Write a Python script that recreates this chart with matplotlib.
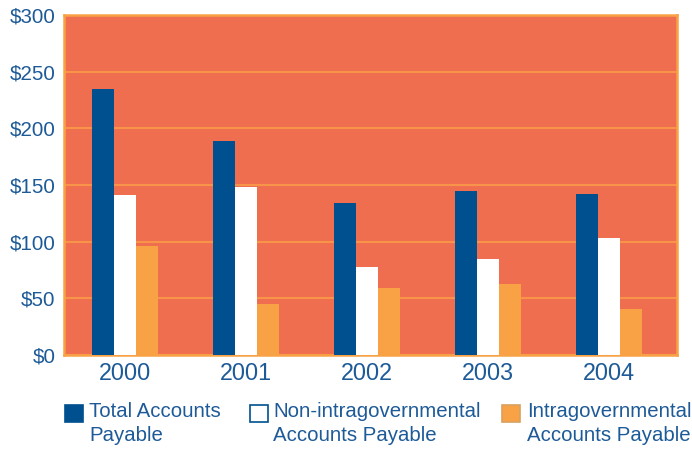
import matplotlib
matplotlib.use("Agg")
import matplotlib.pyplot as plt
from matplotlib.patches import Rectangle
import numpy as np

years = ["2000", "2001", "2002", "2003", "2004"]
total_payable = [235, 189, 134, 145, 142]
non_intragov_payable = [141, 148, 78, 85, 103]
intragov_payable = [96, 45, 59, 63, 41]
y_ticks = [0, 50, 100, 150, 200, 250, 300]
y_tick_labels = ["$0", "$50", "$100", "$150", "$200", "$250", "$300"]
legend_labels = ["Total Accounts\nPayable",
                 "Non-intragovernmental\nAccounts Payable",
                 "Intragovernmental\nAccounts Payable"]

BG = "#F06E50"
BLUE = "#00508F"
WHITE = "#FFFFFF"
ORANGE = "#F9A245"
GRID = "#F8944A"
TEXT = "#1D5A98"

plt.rcParams["font.family"] = ["Liberation Sans", "DejaVu Sans"]

fig = plt.figure(figsize=(6.92, 4.49), dpi=100)
ax = fig.add_axes([64 / 692, 94 / 449, 613 / 692, 340 / 449])
ax.set_facecolor(BG)

x = np.arange(len(years))
w = 0.182
ax.bar(x - w, total_payable, w, color=BLUE, linewidth=0, zorder=3)
ax.bar(x, non_intragov_payable, w, color=WHITE, linewidth=0, zorder=3)
ax.bar(x + w, intragov_payable, w, color=ORANGE, linewidth=0, zorder=3)

ax.set_ylim(0, 300)
ax.set_xlim(-0.5, 4.56)
ax.set_yticks(y_ticks)
ax.set_yticklabels(y_tick_labels)
ax.set_xticks(x)
ax.set_xticklabels(years)
ax.tick_params(axis="both", length=0, labelcolor=TEXT)
ax.tick_params(axis="y", pad=6, labelsize=14.8)
ax.tick_params(axis="x", pad=5, labelsize=16.8)
ax.yaxis.grid(True, color=GRID, linewidth=1.5, zorder=1)
ax.set_axisbelow(True)
for s in ax.spines.values():
    s.set_color(ORANGE)
    s.set_linewidth(1.8)

# legend drawn in figure pixel coordinates
H = 449.0
items = [(65, BLUE, BLUE), (250, WHITE, BLUE), (502, ORANGE, "#D9A060")]
text_x = [89, 273, 527]
for (px, fc, ec), tx, lab in zip(items, text_x, legend_labels):
    fig.patches.append(Rectangle((px / 692, (H - 422) / H), 18 / 692, 17 / H,
                                 transform=fig.transFigure, facecolor=fc,
                                 edgecolor=ec, linewidth=1.2))
    fig.text(tx / 692, (H - 402) / H, lab, color=TEXT, fontsize=14.7,
             va="top", ha="left", linespacing=1.32)

fig.savefig("out.png", dpi=100, facecolor="white")
